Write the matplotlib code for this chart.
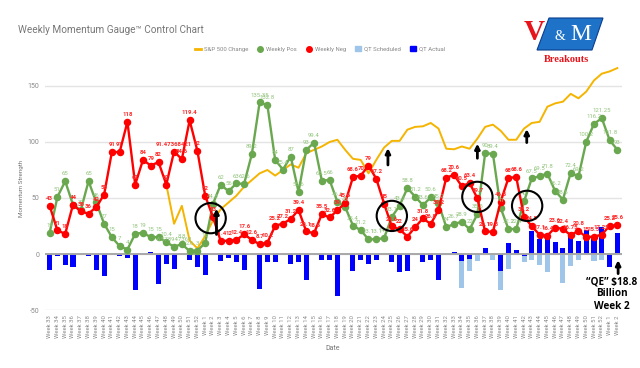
import numpy as np
import matplotlib.pyplot as plt
from matplotlib.patches import Ellipse, Polygon, Patch
from matplotlib.lines import Line2D

plt.rcParams['font.family'] = ['Roboto', 'DejaVu Sans']

weeks = (['Week %d' % w for w in range(33, 53)] + ['Week %d' % w for w in range(1, 53)]
         + ['Week 1', 'Week 2'])

pos = [19, 51, 65, 44, 39, 65, 46, 27, 15, 7, 4, 18, 19, 15, 15, 10.4, 6.578947368, 8.8, 2.6, 3,
       10, 44.8, 62, 56, 63, 62.6, 89.2, 135.35, 132.8, 84, 75.4, 87, 55.6, 93, 99.4, 65.5, 66, 46.6, 42, 25.4,
       21.2, 13.1, 13.1, 14.2, 33.1, 43.2, 58.8, 51.2, 43.6, 50.6, 45.2, 24, 26.7, 28.9, 22, 35.5, 90, 89.4, 41, 22.2,
       22.4, 47, 67.5, 69.5, 71.8, 56.2, 48.6, 72.4, 69.2, 100.2, 116.2, 121.25, 101.8, 93]

neg = [43, 21, 18, 44, 38, 36, 42, 53, 91, 91, 118, 62, 84, 79, 82, 62, 91.47368421, 84.6, 119.4, 92,
       52, 33, 11.4, 12, 12.4, 17.6, 12.6, 8.7, 10.2, 25.2, 27.2, 31.2, 39.4, 20.1, 18.6, 35.5, 32.6, 39, 45.6, 68.6,
       70, 79, 67.2, 45, 24.6, 22, 15.6, 24, 31.8, 26.8, 39.2, 68.2, 70.6, 60.5, 63.4, 49.7, 20.1, 19.8, 46.8, 68,
       68.6, 33.2, 24.8, 17.1, 16.4, 23.6, 22.4, 16.75, 20.8, 15, 15.5, 17.25, 25.2, 25.6]

sp500 = [None] * 15 + [62, 27, 43, 12, 5,
       16, 30, 40, 46, 52, 60, 66, 72, 75, 70, 75, 80, 77, 90, 93, 96, 100, 102, 93, 85,
       84, 72, 84, 95, 101, 101, 111, 113.5, 114, 117, 112, 94, 93.5, 96, 94, 103, 113.5, 115.5, 110, 102,
       102, 112, 117, 118, 131.5, 134.5, 136, 143, 139, 145, 155, 161, 163, 166]

qt_sched = [0] * 34 + [-1] + [0] * 18 + [-30, -15.5, -6.5, 0, -5.5, -32.5, -13.4,
       0, -7.2, -5, -9.7, -16.5, 0, -26, -11, -5, 0, -6, -5, 0, 0]

qt_actual = [-14.5, -1.5, -10, -12, 0, -1.5, -14, -19.6, 0, -1.5, -4, -32, 0, 1.5, -26.8, -9, -13, 0, -5.2, -11.6,
       -18.5, 0, -6.6, -4, -7.4, -14.6, 0, -31, -6.7, -6.8, 0, -8.6, -7, -23, 0, -5, -5, -37.8, 0, -15.5,
       -5, -9, -5, 0, -7, -16.5, -15, 0, -7.5, -5.5, -23.5, 0, 2.2, -6, -4.5, 0, 5.5, 0, -15.5, 9.5,
       4, -2, 20.3, 13.7, 14, 10.4, 5.6, 15.3, 11.3, 21.7, 15.5, 24.4, -12, 18.8]

# circles (week index, value) and arrows (week index, base, tip) drawn over the chart
circles = [(20.7, 32), (44.0, 34), (55.0, 51), (61.4, 43)]
arrows = [(21.45, 15, 43), (43.5, 77, 97), (55.0, 83, 101), (61.35, 97, 114), (73.1, -20, -3)]

GREEN = '#6aa84f'
RED = '#ff0000'
ORANGE = '#f4b400'
BLUE = '#0000ff'
LBLUE = '#9fc5e8'
GRAY = '#777777'

x = np.arange(len(weeks))
sp = np.array([np.nan if v is None else v for v in sp500])

fig = plt.figure(figsize=(6.4, 3.68), dpi=100)
ax = fig.add_axes([0.0703, 0.1576, 0.9016, 0.6696])

ax.bar(x, qt_sched, width=0.65, color=LBLUE, lw=0, zorder=2)
ax.bar(x, qt_actual, width=0.65, color=BLUE, lw=0, zorder=3)
ax.axhline(0, color='#a8a8a8', lw=1.4, zorder=4)

ax.plot(x, sp, color=ORANGE, lw=1.4, zorder=5)
ax.plot(x, pos, color=GREEN, lw=1.7, marker='o', ms=4.4, zorder=6)
ax.plot(x, neg, color=RED, lw=1.7, marker='o', ms=4.4, zorder=7)

def fmt(v):
    return '%.10g' % v

for i, v in enumerate(pos):
    ax.annotate(fmt(v), (i, v), xytext=(0, 3.5), textcoords='offset points', ha='center',
                va='bottom', fontsize=4.3, color='#93c47d', zorder=8)
for i, v in enumerate(neg):
    ax.annotate(fmt(v), (i, v), xytext=(0, 3.5), textcoords='offset points', ha='center',
                va='bottom', fontsize=4.3, color='#ff2a2a', fontweight='bold', zorder=9)

for cx, cy in circles:
    ax.add_patch(Ellipse((cx, cy), width=3.9, height=27, fill=False, ec='black', lw=1.5, zorder=10))
for ax_x, y0, y1 in arrows:
    ax.annotate('', xy=(ax_x, y1), xytext=(ax_x, y0),
                arrowprops=dict(arrowstyle='-|>', lw=2, color='black', mutation_scale=7), zorder=11)

ax.set_xlim(-0.6, 73.6)
ax.set_ylim(-50, 170)
ax.set_yticks([-50, 0, 50, 100, 150])
ax.set_yticklabels(['-50', '0', '50', '100', '150'], fontsize=5, color='#8a8a8a')
ax.set_xticks(x)
ax.set_xticklabels(weeks, rotation=90, fontsize=4.3, color='#8a8a8a')
ax.tick_params(length=0, pad=4)
ax.grid(axis='y', color='#e4e4e4', lw=1, zorder=0)
ax.set_axisbelow(True)
for s in ax.spines.values():
    s.set_visible(False)

def px(xp, yp):
    return (xp / 640, 1 - yp / 368)

fig.text(*px(18, 30), 'Weekly Momentum Gauge™ Control Chart', fontsize=7.2, color=GRAY, va='center')
fig.text(*px(333, 348), 'Date', fontsize=5, color=GRAY, ha='center', va='center')
fig.text(*px(22, 188), 'Momentum Strength', fontsize=4.5, color=GRAY, rotation=90, ha='center', va='center')

handles = [Line2D([], [], color=ORANGE, lw=2),
           Line2D([], [], color=GREEN, marker='o', ls='none', ms=4),
           Line2D([], [], color=RED, marker='o', ls='none', ms=4),
           Patch(color=LBLUE), Patch(color=BLUE)]
labels = ['S&P 500 Change', 'Weekly Pos', 'Weekly Neg', 'QT Scheduled', 'QT Actual']
fig.legend(handles, labels, loc='center', bbox_to_anchor=px(320, 49), ncol=5, frameon=False,
           fontsize=4.3, handlelength=0.9, handleheight=0.8, columnspacing=1.6, handletextpad=0.5,
           labelcolor='#888888')

fig.text(*px(612, 294), '\u201cQE\u201d $18.8\nBillion\nWeek 2', fontsize=7.2, fontweight='bold',
         ha='center', va='center', linespacing=1.15, family='Open Sans')

# logo
fig.add_artist(Polygon([px(549, 18), px(603, 18), px(592, 50), px(537, 50)], closed=True,
                       transform=fig.transFigure, fc='#1e73c8', ec='#0a3d8f', lw=0.8))
fig.text(*px(560, 36), '&', fontsize=10, color='white', family='Liberation Serif', ha='center', va='center')
fig.text(*px(581, 34), 'M', fontsize=17, color='white', family='Liberation Serif', ha='center', va='center')
fig.text(*px(534, 33), 'V', fontsize=21, color='#e8141b', family='Liberation Serif', fontweight='bold',
         ha='center', va='center')
fig.text(*px(566, 60), 'Breakouts', fontsize=7.5, color='#e8141b', family='Liberation Serif',
         fontweight='bold', ha='center', va='center')

fig.savefig('out.png', dpi=100)
